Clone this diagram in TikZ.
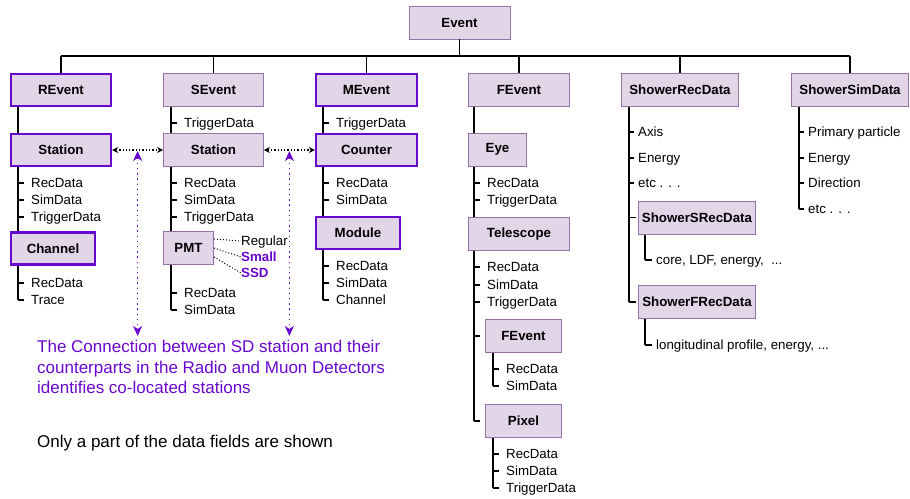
\documentclass[tikz,border=0pt]{standalone}
\usepackage{fontspec}
\setmainfont{Liberation Sans}
\usetikzlibrary{arrows.meta,positioning,backgrounds,calc}
\definecolor{boxfill}{RGB}{225,213,231}
\definecolor{boxline}{RGB}{150,115,166}
\definecolor{hilite}{RGB}{104,8,206}
\tikzset{
    % class boxes
    box/.style={rectangle, draw=boxline, fill=boxfill, line width=0.9pt,
        minimum height=33pt, inner sep=0pt,
        font=\fontsize{13.3}{16}\selectfont\bfseries},
    hibox/.style={box, draw=hilite, line width=2.4pt, minimum height=32pt},
    % data fields
    field/.style={anchor=west, inner sep=0pt, text height=9.6pt, text depth=0pt,
        font=\fontsize{13.3}{16}\selectfont},
    purplefield/.style={field, text=hilite, font=\fontsize{13.3}{16}\selectfont\bfseries},
    % lines
    tree/.style={line width=1.5pt, black},
    tick/.style={line width=1.3pt, black, shorten >=#1},
    tick/.default=7pt,
    link/.style={{Stealth[length=6pt,width=6pt]}-{Stealth[length=6pt,width=6pt]},
        dotted, line width=1.3pt},
    updown/.style={{Stealth[length=10pt,width=9pt,inset=3pt]}-{Stealth[length=10pt,width=9pt,inset=3pt]},
        dash pattern=on 1.4pt off 3.8pt, line width=1.4pt, hilite, shorten >=4pt},
    pmtlink/.style={dotted, line width=1pt},
    note/.style={inner sep=0pt, align=left, font=\fontsize{17}{20.5}\selectfont},
}
\begin{document}
\begin{tikzpicture}[x=1pt, y=-1pt]
\useasboundingbox (0,0) rectangle (910,498);
% top level
\node[box, minimum width=101pt] (ev) at (459.5,22.5) {Event};
\coordinate (bus) at (0,56);
\node[hibox, minimum width=100pt] (rev) at (61,90) {REvent};
\node[box, minimum width=100pt] (sev) at (213.5,90) {SEvent};
\node[hibox, minimum width=101pt] (mev) at (366.5,90) {MEvent};
\node[box, minimum width=101pt] (fev) at (519,90) {FEvent};
\node[box, minimum width=117pt] (srd) at (680,90) {ShowerRecData};
\node[box, minimum width=117pt] (ssd) at (850,90) {ShowerSimData};
\draw[tree] (ev.south) -- (ev.south |- bus);
\draw[tree] (rev.north |- bus) -- (ssd.north |- bus);
\foreach \n in {rev,sev,mev,fev,srd,ssd}{\draw[tree] (\n.north |- bus) -- (\n.north);}

% second level boxes
\node[hibox, minimum width=100pt] (rst) at (61,150) {Station};
\node[box, minimum width=100pt] (sst) at (213.5,150) {Station};
\node[hibox, minimum width=101pt] (cnt) at (366.5,150) {Counter};
\node[hibox, minimum width=84pt] (chn) at (53,248.5) {Channel};
\node[box, minimum width=50pt] (pmt) at (188.5,248) {PMT};
\node[hibox, minimum width=84pt] (mod) at (358,233) {Module};
\node[box, minimum width=58pt] (eye) at (497.5,149.5) {Eye};
\node[box, minimum width=101pt] (tel) at (519,234) {Telescope};
\node[box, minimum width=76pt] (fsub) at (523.5,336) {FEvent};
\node[box, minimum width=76pt] (pix) at (523.5,421) {Pixel};
\node[box, minimum width=117pt] (srs) at (697,217.5) {ShowerSRecData};
\node[box, minimum width=117pt] (sfs) at (697,302) {ShowerFRecData};

% spines
\coordinate (rsp) at (18,0);
\coordinate (ssp) at (171,0);
\coordinate (msp) at (323,0);
\coordinate (fsp) at (474,0);
\coordinate (fbsp) at (493,0);
\coordinate (srsp) at (629,0);
\coordinate (srssp) at (645,0);
\coordinate (sssp) at (799,0);

% radio
\foreach \t/\y [count=\i] in {RecData/183,SimData/200,TriggerData/217,RecData/283,Trace/300}{
  \node[field] (r\i) at (31,\y) {\t};
  \draw[tick] (rsp |- r\i.west) -- (r\i.west);
}
% surface
\foreach \t/\y [count=\i] in {TriggerData/123,RecData/183,SimData/200,TriggerData/217,RecData/293,SimData/310}{
  \node[field] (s\i) at (184,\y) {\t};
  \draw[tick] (ssp |- s\i.west) -- (s\i.west);
}
\node[field] (reg) at (241,241) {Regular};
\node[purplefield] (sml) at (241,257) {Small};
\node[purplefield] (ssdl) at (241,273) {SSD};
\draw[pmtlink] ([yshift=9pt]pmt.east) -- (reg.west);
\draw[pmtlink] (pmt.east) -- (sml.west);
\draw[pmtlink] ([yshift=-9pt]pmt.east) -- (ssdl.west);
% muon
\foreach \t/\y [count=\i] in {TriggerData/123,RecData/183,SimData/200,RecData/266,SimData/283,Channel/300}{
  \node[field] (m\i) at (336,\y) {\t};
  \draw[tick] (msp |- m\i.west) -- (m\i.west);
}
% fluorescence
\foreach \t/\y [count=\i] in {RecData/183,TriggerData/200,RecData/267,SimData/285,TriggerData/302}{
  \node[field] (f\i) at (487,\y) {\t};
  \draw[tick] (fsp |- f\i.west) -- (f\i.west);
}
\draw[tick=5pt] (fsp |- fsub.west) -- (fsub.west);
\draw[tick=5pt] (fsp |- pix.west) -- (pix.west);
\foreach \t/\y [count=\i] in {RecData/369,SimData/386}{
  \node[field] (fa\i) at (506,\y) {\t};
  \draw[tick] (fbsp |- fa\i.west) -- (fa\i.west);
}
\foreach \t/\y [count=\i] in {RecData/454,SimData/471,TriggerData/488}{
  \node[field] (pa\i) at (506,\y) {\t};
  \draw[tick] (fbsp |- pa\i.west) -- (pa\i.west);
}
% shower reconstruction
\foreach \t/\y [count=\i] in {Axis/132,Energy/158,etc . . ./183}{
  \node[field] (sr\i) at (638,\y) {\t};
  \draw[tick=4pt] (srsp |- sr\i.west) -- (sr\i.west);
}
\draw[tick=2pt] (srsp |- srs.west) -- (srs.west);
\draw[tick=2pt] (srsp |- sfs.west) -- (sfs.west);
\node[field] (core) at (656,260) {core, LDF, energy,\ \ ...};
\draw[tick=4pt] (srssp |- core.west) -- (core.west);
\node[field] (lng) at (656,345) {longitudinal profile, energy, ...};
\draw[tick=4pt] (srssp |- lng.west) -- (lng.west);
% shower simulation
\foreach \t/\y [count=\i] in {Primary particle/132,Energy/158,Direction/183,etc . . ./209}{
  \node[field] (ss\i) at (808,\y) {\t};
  \draw[tick=4pt] (sssp |- ss\i.west) -- (ss\i.west);
}

\begin{scope}[on background layer]
  \draw[tree] (rev.south -| rsp) -- (rsp |- r5.west);
  \draw[tree] (sev.south -| ssp) -- (ssp |- s6.west);
  \draw[tree] (mev.south -| msp) -- (msp |- m6.west);
  \draw[tree] (fev.south -| fsp) -- (fsp |- pix.west);
  \draw[tree] (fsub.south -| fbsp) -- (fbsp |- fa2.west);
  \draw[tree] (pix.south -| fbsp) -- (fbsp |- pa3.west);
  \draw[tree] (srd.south -| srsp) -- (srsp |- sfs.west);
  \draw[tree] (srs.south -| srssp) -- (srssp |- core.west);
  \draw[tree] (sfs.south -| srssp) -- (srssp |- lng.west);
  \draw[tree] (ssd.south -| sssp) -- (sssp |- ss4.west);
\end{scope}

% co-located stations
\draw[link] (rst.east) -- (sst.west);
\draw[link] (sst.east) -- (cnt.west);
\node[note, text=hilite, anchor=north west] (note) at (37,340)
  {The Connection between SD station and their\\counterparts in the Radio and Muon Detectors\\identifies co-located stations};
\coordinate (lk1) at ($(rst.east)!.5!(sst.west)$);
\coordinate (lk2) at ($(sst.east)!.5!(cnt.west)$);
\draw[updown] ([yshift=-1pt]lk1) -- (lk1 |- note.north);
\draw[updown] ([yshift=-1pt]lk2) -- (lk2 |- note.north);
\node[note, anchor=west] (only) at (37,443.5) {Only a part of the data fields are shown};
\end{tikzpicture}
\end{document}
